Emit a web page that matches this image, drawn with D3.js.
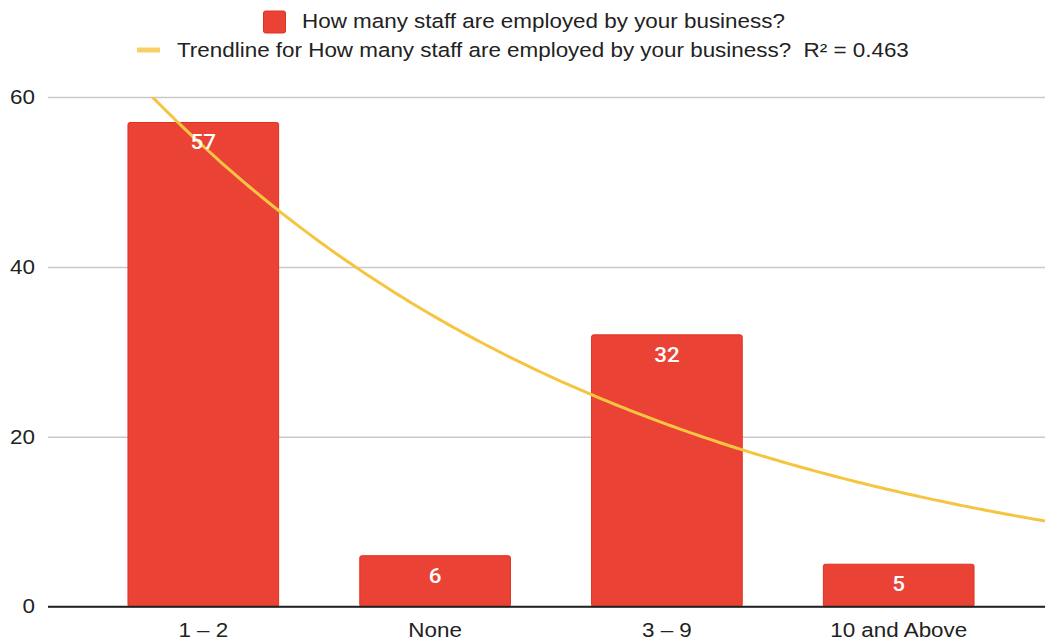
<!DOCTYPE html>
<html>
<head>
<meta charset="utf-8">
<script src="https://cdn.jsdelivr.net/npm/d3@7"></script>
<style>
  html, body { margin: 0; padding: 0; background: #fff; }
  svg { display: block; }
  text { font-family: "Liberation Sans", Arial, sans-serif; fill: #222; white-space: pre; }
</style>
</head>
<body>
<svg id="chart" width="1045" height="642"></svg>
<script>
// ---- data ----
const categories = ["1 – 2", "None", "3 – 9", "10 and Above"];
const staffCounts = [57, 6, 32, 5];
const yTicks = [0, 20, 40, 60];
const seriesName = "How many staff are employed by your business?";
const trendLabel = "Trendline for How many staff are employed by your business?  R² = 0.463";
// exponential trendline y = A * exp(B * index), coefficients
const trendA = 54.2;
const trendB = -0.463;

// ---- layout ----
const W = 1045, H = 642;
const plotLeft = 48, plotRight = 1054, plotTop = 97, plotBottom = 606.7;
const SX = 1.15; // horizontal text stretch of the reference
const barColor = "#ea4335";
const trendColor = "#f5c542";

const svg = d3.select("#chart");

const x = d3.scaleBand().domain(categories).range([plotLeft, plotRight])
  .paddingInner(0.35).paddingOuter(0.345);
const y = d3.scaleLinear().domain([0, 60]).range([plotBottom, plotTop]);
const xi = d3.scaleLinear().domain([0, categories.length - 1])
  .range([x(categories[0]) + x.bandwidth() / 2, x(categories[categories.length - 1]) + x.bandwidth() / 2]);

function stretch(sel) {
  sel.each(function () {
    const t = d3.select(this);
    const tx = +t.attr("x") || 0;
    t.attr("x", tx / SX).attr("transform", `scale(${SX},1)`);
  });
}

// y axis + gridlines
const gy = svg.append("g").attr("transform", `translate(${plotLeft},0)`)
  .call(d3.axisLeft(y).tickValues(yTicks).tickSize(-(W - plotLeft)).tickPadding(13));
gy.select(".domain").remove();
gy.selectAll(".tick line").attr("stroke", "#c9c9c9").attr("stroke-width", 1.5);
gy.selectAll(".tick text").attr("font-size", 19.5).attr("fill", "#222")
  .style("font-family", '"Liberation Sans", Arial, sans-serif').call(stretch);

// bars
svg.append("g").selectAll("rect").data(categories).join("rect")
  .attr("x", d => x(d))
  .attr("y", (d, i) => y(staffCounts[i]))
  .attr("width", x.bandwidth())
  .attr("height", (d, i) => y(0) - y(staffCounts[i]))
  .attr("rx", 2)
  .attr("fill", barColor)
  .attr("stroke", "#e2301f")
  .attr("stroke-width", 1);

// trendline
svg.append("clipPath").attr("id", "plotClip").append("rect")
  .attr("x", plotLeft).attr("y", plotTop).attr("width", W - plotLeft).attr("height", plotBottom - plotTop);
const tSamples = d3.range(-1, 4.01, 0.02);
svg.append("path")
  .attr("clip-path", "url(#plotClip)")
  .attr("d", d3.line().x(t => xi(t)).y(t => y(trendA * Math.exp(trendB * t)))(tSamples))
  .attr("fill", "none")
  .attr("stroke", trendColor)
  .attr("stroke-width", 3);

// data labels
svg.append("g").selectAll("text").data(categories).join("text")
  .attr("x", d => x(d) + x.bandwidth() / 2)
  .attr("y", (d, i) => y(staffCounts[i]) + 27)
  .attr("text-anchor", "middle")
  .attr("font-size", 19.5)
  .attr("font-weight", 500)
  .style("fill", "#fff")
  .style("font-family", "Roboto, Arial, sans-serif")
  .text((d, i) => staffCounts[i])
  .each(function () {
    const t = d3.select(this);
    const px = +t.attr("x"), py = +t.attr("y");
    t.attr("x", 0).attr("y", 0).attr("transform", `translate(${px},${py}) scale(${SX},1)`);
  });

// x axis
const gx = svg.append("g").attr("transform", `translate(0,${plotBottom})`)
  .call(d3.axisBottom(x).tickSize(0).tickPadding(16));
gx.select(".domain").remove();
gx.selectAll(".tick text").attr("font-size", 19.5).attr("fill", "#222")
  .style("font-family", '"Liberation Sans", Arial, sans-serif').call(stretch);
svg.append("line")
  .attr("x1", plotLeft).attr("x2", W).attr("y1", y(0)).attr("y2", y(0))
  .attr("stroke", "#222").attr("stroke-width", 2);

// legend
const lg = svg.append("g");
lg.append("rect").attr("x", 263.5).attr("y", 11).attr("width", 22).attr("height", 22)
  .attr("rx", 2).attr("fill", barColor).attr("stroke", "#e2301f");
lg.append("text").attr("font-size", 19.5)
  .attr("transform", `translate(302,27.5) scale(${SX},1)`).text(seriesName);
lg.append("rect").attr("x", 137).attr("y", 47.5).attr("width", 23).attr("height", 5)
  .attr("fill", trendColor).attr("opacity", 0.8);
lg.append("text").attr("font-size", 19.5)
  .attr("transform", `translate(177,57) scale(${SX},1)`).text(trendLabel);
</script>
</body>
</html>
